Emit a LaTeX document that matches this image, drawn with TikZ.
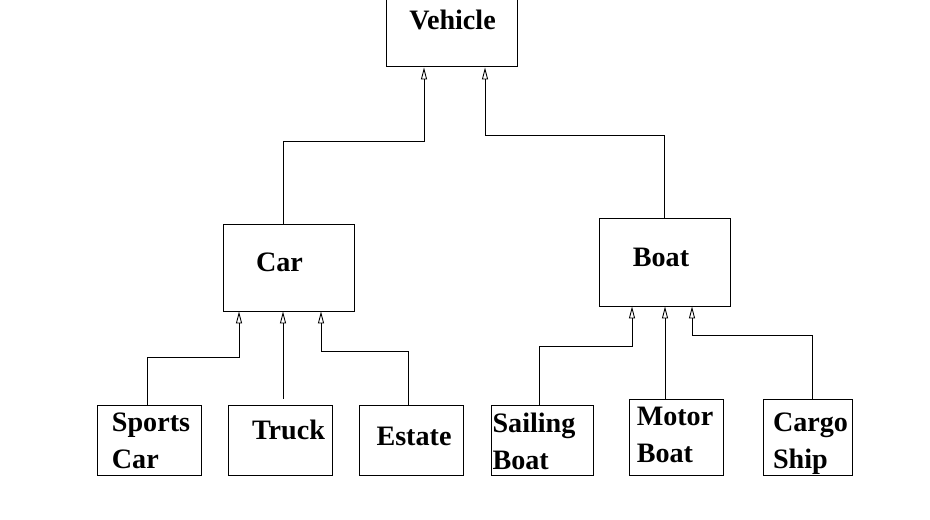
\documentclass[tikz,border=0pt]{standalone}
\usepackage{fontspec}
\setmainfont{Liberation Serif}
\usepackage{tikz}
\usetikzlibrary{arrows.meta,positioning}
\tikzset
{
	classbox/.style = {rectangle, draw=black, line width=0.5pt, inner sep=0pt},
	classname/.style = {font=\bfseries\fontsize{16}{21}\selectfont, align=left, inner sep=0pt},
	inherit/.style = {draw=black, line width=0.5pt, -{Triangle[open, length=0.24cm, width=0.12cm]}}
}

\begin{document}
\begin{tikzpicture}
\useasboundingbox (0,0) rectangle (18.6,-10.4);
% top level
\node[classbox, minimum width=2.62cm, minimum height=1.40cm,
	label={[classname, xshift=0.02cm, yshift=0.22cm]center:Vehicle}] (vehicle) at (9.03,-0.62) {};
% second level
\node[classbox, minimum width=2.62cm, minimum height=1.74cm,
	label={[classname, xshift=-0.18cm, yshift=0.10cm]center:Car}] (car) at (5.77,-5.35) {};
\node[classbox, minimum width=2.62cm, minimum height=1.76cm,
	label={[classname, xshift=-0.07cm, yshift=0.10cm]center:Boat}] (boat) at (13.29,-5.24) {};
% leaves
\node[classbox, minimum width=2.08cm, minimum height=1.40cm,
	label={[classname, xshift=0.04cm, yshift=-0.02cm]center:Sports\\Car}] (sportscar) at (2.98,-8.80) {};
\node[classbox, minimum width=2.08cm, minimum height=1.40cm,
	label={[classname, xshift=0.17cm, yshift=0.21cm]center:Truck}] (truck) at (5.60,-8.80) {};
\node[classbox, minimum width=2.08cm, minimum height=1.40cm,
	label={[classname, xshift=0.06cm, yshift=0.07cm]center:Estate}] (estate) at (8.22,-8.80) {};
\node[classbox, minimum width=2.04cm, minimum height=1.40cm,
	label={[classname, xshift=-0.16cm, yshift=-0.02cm]center:Sailing\\Boat}] (sailingboat) at (10.84,-8.80) {};
\node[classbox, minimum width=1.88cm, minimum height=1.52cm,
	label={[classname, xshift=-0.02cm, yshift=0.05cm]center:Motor\\Boat}] (motorboat) at (13.52,-8.74) {};
\node[classbox, minimum width=1.78cm, minimum height=1.52cm,
	label={[classname, xshift=0.06cm, yshift=-0.14cm]center:Cargo\\Ship}] (cargoship) at (16.15,-8.74) {};

\coordinate (trucktop) at ([xshift=0.06cm]truck.north);
\coordinate (motortop) at ([xshift=-0.22cm]motorboat.north);

\draw[inherit, shorten >=0.02cm] ([xshift=-0.11cm]car.north) -- ++(0,1.64) -| ([xshift=-0.55cm]vehicle.south);
\draw[inherit, shorten >=0.02cm] (boat.north) -- ++(0,1.64) -| ([xshift=0.67cm]vehicle.south);

\draw[inherit] ([xshift=-0.04cm]sportscar.north) -- ++(0,0.94) -| ([xshift=-0.99cm]car.south);
\draw[inherit, shorten <=0.12cm] (trucktop) -- (trucktop |- car.south);
\draw[inherit] ([xshift=-0.06cm]estate.north) -- ++(0,1.06) -| ([xshift=0.65cm]car.south);

\draw[inherit] ([xshift=-0.06cm]sailingboat.north) -- ++(0,1.16) -| ([xshift=-0.65cm]boat.south);
\draw[inherit] (motortop) -- (motortop |- boat.south);
\draw[inherit] ([xshift=0.09cm]cargoship.north) -- ++(0,1.26) -| ([xshift=0.55cm]boat.south);
\end{tikzpicture}
\end{document}
